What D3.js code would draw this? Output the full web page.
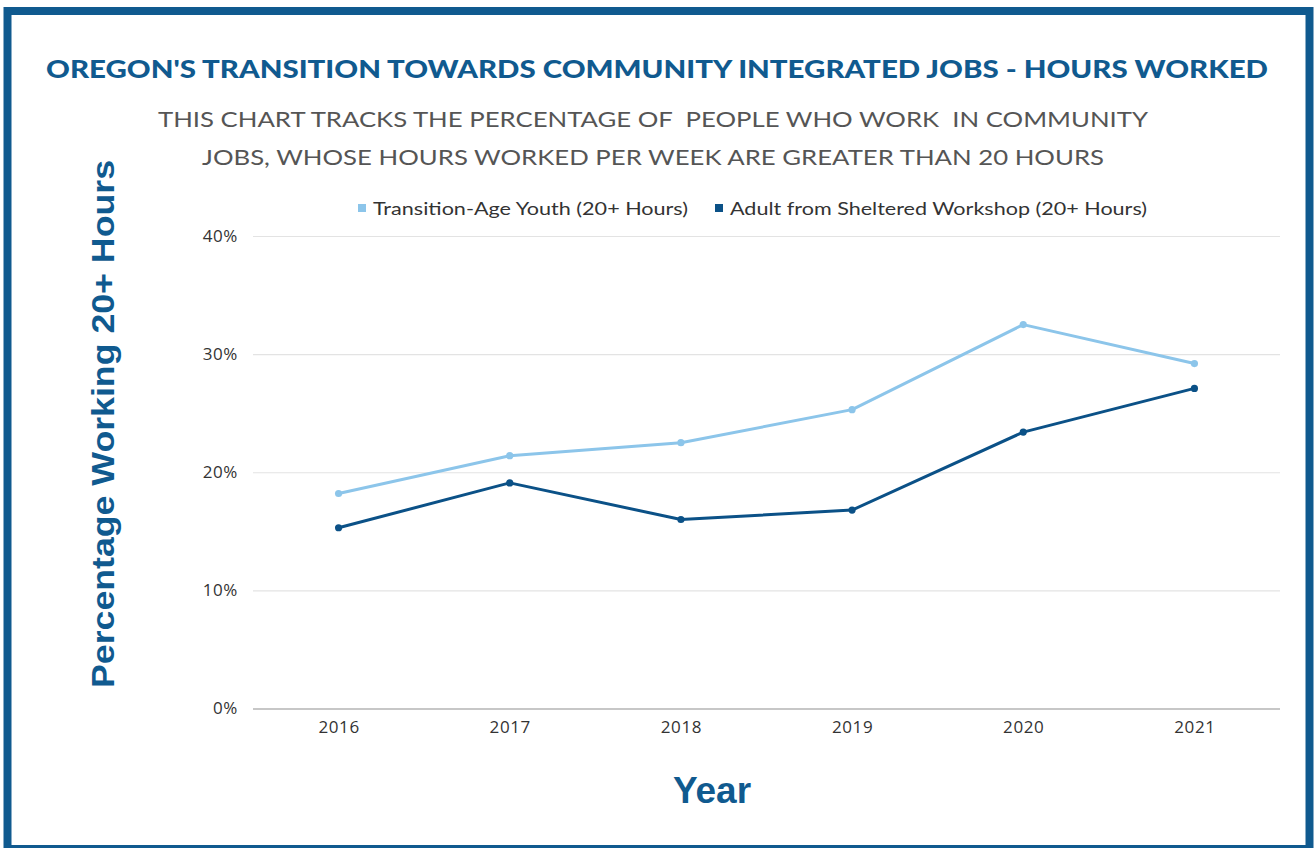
<!DOCTYPE html>
<html>
<head>
<meta charset="utf-8">
<script src="https://cdn.jsdelivr.net/npm/d3@7"></script>
<style>
  html, body { margin: 0; padding: 0; background: #ffffff; }
  svg { display: block; }
  text { white-space: pre; }
</style>
</head>
<body>
<svg id="chart" width="1314" height="848"></svg>
<script>
// Data
const years = ["2016", "2017", "2018", "2019", "2020", "2021"];
const youthPct = [18.2, 21.4, 22.5, 25.3, 32.5, 29.2];
const adultPct = [15.3, 19.1, 16.0, 16.8, 23.4, 27.1];
const yTicks = [0, 10, 20, 30, 40];
const seriesNames = ["Transition-Age Youth (20+ Hours)", "Adult from Sheltered Workshop (20+ Hours)"];
const seriesColors = ["#8cc5ea", "#0b5187"];

const svg = d3.select("#chart");
const W = 1314, H = 848;
const blue = "#105a8f";

// Outer frame
svg.append("rect").attr("x", 0).attr("y", 0).attr("width", W).attr("height", H).attr("fill", "#ffffff");
svg.append("rect")
  .attr("x", 7.5).attr("y", 11).attr("width", 1302).attr("height", 838)
  .attr("fill", "none").attr("stroke", blue).attr("stroke-width", 8);

// Titles
svg.append("text")
  .attr("x", 657).attr("y", 78)
  .attr("text-anchor", "middle")
  .attr("font-family", "Lato, 'Open Sans', sans-serif")
  .attr("font-weight", 900)
  .attr("font-size", 25)
  .attr("fill", blue)
  .attr("textLength", 1222).attr("lengthAdjust", "spacingAndGlyphs")
  .text("OREGON'S TRANSITION TOWARDS COMMUNITY INTEGRATED JOBS - HOURS WORKED");

const sub = [
  { t: "THIS CHART TRACKS THE PERCENTAGE OF  PEOPLE WHO WORK  IN COMMUNITY", y: 127, len: 990 },
  { t: "JOBS, WHOSE HOURS WORKED PER WEEK ARE GREATER THAN 20 HOURS", y: 165, len: 902 }
];
svg.selectAll("text.sub").data(sub).enter().append("text")
  .attr("class", "sub")
  .attr("x", 653).attr("y", d => d.y)
  .attr("text-anchor", "middle")
  .attr("font-family", "Lato, 'Open Sans', sans-serif")
  .attr("font-size", 22)
  .attr("fill", "#555555")
  .attr("textLength", d => d.len).attr("lengthAdjust", "spacingAndGlyphs")
  .text(d => d.t);

// Plot area
const plot = { left: 253, right: 1280, top: 236, bottom: 708.5 };
const x = d3.scalePoint().domain(years).range([plot.left, plot.right]).padding(0.5);
const y = d3.scaleLinear().domain([0, 40]).range([plot.bottom, plot.top]);

const tickFont = "'Open Sans', Lato, sans-serif";

// Gridlines + y labels
const yAxis = d3.axisLeft(y).tickValues(yTicks).tickSize(-(plot.right - plot.left)).tickFormat(d => d + "%").tickPadding(15);
const gy = svg.append("g").attr("transform", `translate(${plot.left},0)`).call(yAxis);
gy.select(".domain").remove();
gy.selectAll(".tick line").attr("stroke", d => d === 0 ? "#b5b5b5" : "#e3e3e3").attr("stroke-width", d => d === 0 ? 1.5 : 1.2);
gy.selectAll(".tick text")
  .attr("font-family", tickFont)
  .attr("font-size", 17).attr("letter-spacing", 0.6).attr("fill", "#333333");

// x labels
const xAxis = d3.axisBottom(x).tickSize(0).tickPadding(12);
const gx = svg.append("g").attr("transform", `translate(0,${plot.bottom})`).call(xAxis);
gx.select(".domain").remove();
gx.selectAll(".tick text")
  .attr("font-family", tickFont)
  .attr("font-size", 17).attr("letter-spacing", 0.6).attr("fill", "#333333");

// Lines and points
const series = [youthPct, adultPct];
const line = d3.line().x((d, i) => x(years[i])).y(d => y(d));
series.forEach((vals, s) => {
  svg.append("path")
    .attr("d", line(vals))
    .attr("fill", "none")
    .attr("stroke", seriesColors[s])
    .attr("stroke-width", 3)
    .attr("stroke-linejoin", "round");
  svg.selectAll(null).data(vals).enter().append("circle")
    .attr("cx", (d, i) => x(years[i]))
    .attr("cy", d => y(d))
    .attr("r", 3.6)
    .attr("fill", seriesColors[s]);
});

// Legend
const legendItems = [
  { x: 362, len: 315 },
  { x: 719, len: 417 }
];
legendItems.forEach((li, i) => {
  svg.append("rect").attr("x", li.x - 4).attr("y", 204).attr("width", 8).attr("height", 8).attr("fill", seriesColors[i]);
  svg.append("text")
    .attr("x", li.x + 11).attr("y", 215)
    .attr("font-family", "Lato, 'Open Sans', sans-serif")
    .attr("font-size", 18).attr("fill", "#333333")
    .attr("textLength", li.len).attr("lengthAdjust", "spacingAndGlyphs")
    .text(seriesNames[i]);
});

// Axis titles
svg.append("text")
  .attr("transform", "translate(114,424) rotate(-90)")
  .attr("text-anchor", "middle")
  .attr("font-family", "'Liberation Sans', Arial, sans-serif")
  .attr("font-weight", "bold")
  .attr("font-size", 31)
  .attr("fill", blue)
  .attr("textLength", 528).attr("lengthAdjust", "spacingAndGlyphs")
  .text("Percentage Working 20+ Hours");

svg.append("text")
  .attr("x", 712).attr("y", 803)
  .attr("text-anchor", "middle")
  .attr("font-family", "'Liberation Sans', Arial, sans-serif")
  .attr("font-weight", "bold")
  .attr("font-size", 37)
  .attr("fill", blue)
  .text("Year");
</script>
</body>
</html>
